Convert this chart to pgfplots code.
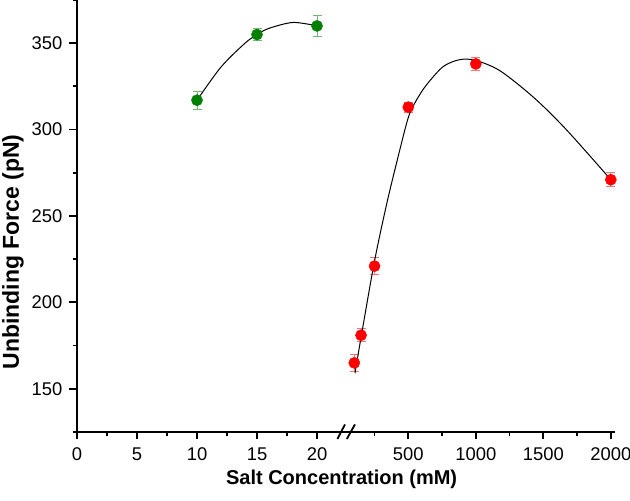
\documentclass[border=0pt]{standalone}
\usepackage{fontspec}
\setmainfont{Liberation Sans}
\usepackage{pgfplots}
\pgfplotsset{compat=1.18}

\definecolor{ogreen}{RGB}{0,128,0}
\definecolor{ored}{RGB}{255,0,0}

\pgfplotsset{
  brk/.style={
    scale only axis, height=216pt,
    ymin=125, ymax=375,
    tick align=outside,
    major tick length=3.75pt, minor tick length=2.25pt,
    tick style={black, line width=0.9pt},
    axis line style={line width=1pt, -},
    tick label style={font=\fontsize{9.2}{11}\selectfont},
    xticklabel style={yshift=-0.5pt},
    /pgf/number format/assume math mode=true,
    /pgf/number format/1000 sep={},
    scaled ticks=false,
    clip=false,
  },
  pts/.style={color=#1, only marks, mark=*, mark size=2.8pt, mark options={draw=#1, fill=#1, line width=0.2pt},
    error bars/.cd, y dir=both, y explicit,
    error bar style={line width=0.5pt, #1!55!white},
    error mark options={rotate=90, mark size=2.25pt, line width=0.5pt, #1!55!white}},
  fit/.style={black, line width=0.5pt, smooth, no marks},
}

\begin{document}
\begin{tikzpicture}
\path[use as bounding box] (-38.5pt,-34.5pt) rectangle (276.5pt,216pt);

\begin{axis}[brk, at={(0,0)}, anchor=south west, width=135pt,
  axis x line*=bottom, axis y line*=left,
  xmin=0, xmax=22.5,
  xtick={0,5,10,15,20}, minor xtick={2.5,7.5,12.5,17.5},
  ytick={150,200,250,300,350}, minor ytick={125,175,225,275,325,375}]
\addplot[pts=ogreen] coordinates {
  (10,317) +- (0,5.1)
  (15,355) +- (0,3.7)
  (20,360) +- (0,6)
};
\addplot[fit] coordinates {
  (10,317) (12,336.2) (14,350) (15,355) (16,358.6) (18,362) (20,360)
};
\end{axis}

\begin{axis}[brk, at={(135pt,0)}, anchor=south west, width=134pt,
  axis x line*=bottom, axis y line=none,
  xmin=46, xmax=2031,
  xtick={500,1000,1500,2000}, minor xtick={250,750,1250,1750},
  ytick=\empty]
\addplot[pts=ored] coordinates {
  (100,165) +- (0,4.8)
  (150,181) +- (0,3.9)
  (250,221) +- (0,5.1)
  (500,313) +- (0,2.9)
  (1000,338) +- (0,3.9)
  (2000,271) +- (0,3.9)
};
\addplot[fit] coordinates {
  (105,159) (155,182) (250,224) (340,257) (414,281) (500,307) (560,317)
  (636,326) (759,336.5) (883,340.5) (1000,340) (1180,334) (1430,318.5)
  (1670,300) (2000,271)
};
\end{axis}

% axis break marks
\draw[line width=0.9pt] (130.2pt,-3.5pt) -- (134pt,3.8pt);
\draw[line width=0.9pt] (134.9pt,-3.5pt) -- (139pt,3.8pt);

\node[anchor=base, font=\bfseries\fontsize{10}{12}\selectfont] at (132.3pt,-26.5pt) {Salt Concentration (mM)};
\node[anchor=base, rotate=90, font=\bfseries\fontsize{11.5}{13}\selectfont] at (-29pt,90pt) {Unbinding Force (pN)};
\end{tikzpicture}
\end{document}
